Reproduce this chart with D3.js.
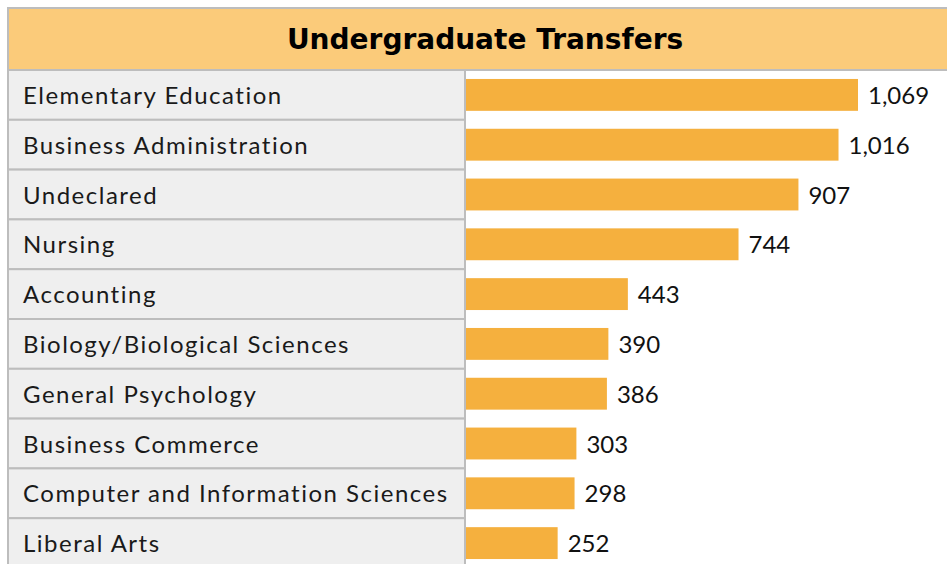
<!DOCTYPE html>
<html><head><meta charset="utf-8">
<script src="https://cdn.jsdelivr.net/npm/d3@7"></script>
<style>body{margin:0;background:#fff}svg{display:block}</style>
</head><body>
<svg id="c" width="947" height="564"></svg>
<script>
const title = "Undergraduate Transfers";
const categories = ["Elementary Education","Business Administration","Undeclared","Nursing","Accounting","Biology/Biological Sciences","General Psychology","Business Commerce","Computer and Information Sciences","Liberal Arts"];
const values = [1069,1016,907,744,443,390,386,303,298,252];

(function () {
const W = 947, H = 564;
const mLeft = 8, mTop = 8, headerH = 62, splitX = 465, rowsTop = 70, rowsBottom = 568;
const svg = d3.select("#c");

const y = d3.scaleBand().domain(categories).range([rowsTop, rowsBottom]).paddingInner(0.36).paddingOuter(0.18);
const rowY = d3.scaleBand().domain(categories).range([rowsTop, rowsBottom]);
const x = d3.scaleLinear().domain([0, 1069]).range([splitX, 858]);
const fmt = d3.format(",");

// header
svg.append("rect").attr("x", mLeft).attr("y", mTop).attr("width", W - mLeft + 2).attr("height", headerH)
  .attr("fill", "#FBCB7A").attr("stroke", "#BDBDBD").attr("stroke-width", 2);
svg.append("text").attr("x", 485).attr("y", mTop + headerH / 2)
  .attr("text-anchor", "middle").attr("dominant-baseline", "central")
  .attr("font-family", "DejaVu Sans").attr("font-weight", "bold").attr("font-size", 28)
  .attr("fill", "#000").text(title);

// label column rows
const rows = svg.append("g");
rows.selectAll("rect").data(categories).join("rect")
  .attr("x", mLeft).attr("y", d => rowY(d)).attr("width", splitX - mLeft).attr("height", rowY.bandwidth())
  .attr("fill", "#EFEFEF").attr("stroke", "#BDBDBD").attr("stroke-width", 2);
rows.selectAll("text").data(categories).join("text")
  .attr("x", 23).attr("y", d => rowY(d) + rowY.bandwidth() / 2 - 0.5)
  .attr("dominant-baseline", "central")
  .attr("font-family", "Lato").attr("font-size", 24).attr("letter-spacing", 1.5)
  .attr("fill", "#1a1a1a").text(d => d);

// vertical divider
svg.append("line").attr("x1", splitX).attr("x2", splitX).attr("y1", rowsTop).attr("y2", H)
  .attr("stroke", "#BDBDBD").attr("stroke-width", 2);

// bars
const bars = svg.append("g");
bars.selectAll("rect").data(values).join("rect")
  .attr("x", splitX + 1).attr("y", (d, i) => y(categories[i]))
  .attr("width", d => x(d) - splitX - 1).attr("height", y.bandwidth())
  .attr("fill", "#F5B03E");
bars.selectAll("text").data(values).join("text")
  .attr("x", d => x(d) + 10).attr("y", (d, i) => y(categories[i]) + y.bandwidth() / 2 - 0.5)
  .attr("dominant-baseline", "central")
  .attr("font-family", "Lato").attr("font-size", 24)
  .attr("fill", "#111").text(d => fmt(d));
})();
</script>
</body></html>
